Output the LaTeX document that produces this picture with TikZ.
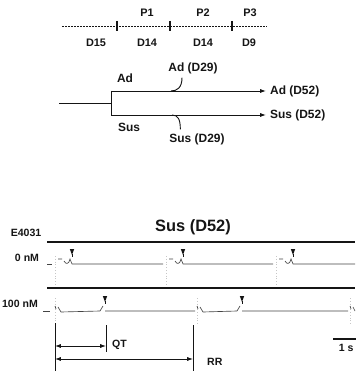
\documentclass[tikz,border=0pt]{standalone}
\usepackage{fontspec}
\setmainfont{Liberation Sans}
\usepackage{xcolor,tikz}
\usetikzlibrary{arrows.meta,positioning}
\definecolor{ink}{HTML}{151515}
\definecolor{trace}{HTML}{444444}

\begin{document}
\begin{tikzpicture}[x=0.3mm,y=-0.3mm,font=\fontsize{9.3}{11}\selectfont\bfseries,text=ink,draw=ink,
  lbl/.style={font=\fontsize{10.2}{12}\selectfont\bfseries},
  small/.style={font=\fontsize{9}{10}\selectfont\bfseries},
  tracepen/.style={draw=trace,line width=0.55pt},
  guide/.style={draw=gray!45,dotted,line width=0.4pt},
  rail/.style={line width=1.3pt},
  span/.style={line width=0.7pt,{Latex[length=5pt,width=3.5pt]}-{Latex[length=5pt,width=3.5pt]}}]
\useasboundingbox (0,0) rectangle (355,371);
% passage ruler
\coordinate (r0) at (62,26);
\coordinate (r4) at (267,26);
\draw[line width=0.8pt,dash pattern=on 0.5mm off 0.4mm] (r0) -- (r4);
\foreach \x in {117,170,232}
  \draw[line width=0.9pt] (\x,21) -- (\x,31);
\node (p1) at (147,13) {P1};
\node (p2) at (203,13) {P2};
\node (p3) at (250,13) {P3};
\node (d15) at (96,43) {D15};
\node (d14a) at (147,43) {D14};
\node (d14b) at (203,43) {D14};
\node (d9) at (249,43) {D9};
% split into the two lines
\coordinate (src) at (59,103);
\coordinate (fork) at (111,103);
\coordinate (adc) at (111,91);
\coordinate (susc) at (111,115);
\coordinate (adhook) at (171,91);
\coordinate (sushook) at (172,115);
\node[lbl] (ad) at (125,78) {Ad};
\node[lbl] (sus) at (129,127) {Sus};
\node[lbl] (ad29) at (193,68) {Ad (D29)};
\node[lbl] (sus29) at (197,139) {Sus (D29)};
\node[lbl,anchor=west] (ad52) at (266,91) {Ad (D52)};
\node[lbl,anchor=west] (sus52) at (266,115) {Sus (D52)};
\draw[line width=0.8pt] (src) -- (fork);
\draw[line width=0.8pt] (adc) -- (susc);
\draw[line width=0.8pt,-{Latex[length=5pt,width=3.5pt]}] (adc) -- (ad52.west);
\draw[line width=0.8pt,-{Latex[length=5pt,width=3.5pt]}] (susc) -- (sus52.west);
\draw[line width=0.8pt] ([xshift=-3.3mm]ad29.south) .. controls +(0,10) and +(6,0) .. (adhook);
\draw[line width=0.8pt] ([xshift=-5mm]sus29.north) .. controls +(0,-10) and +(6,0) .. (sushook);
% traces
\node[font=\fontsize{14}{16}\selectfont\bfseries] (title) at (193,227) {Sus (D52)};
\node[small] (e4031) at (26,233) {E4031};
\node[small] (zero) at (27,258) {0 nM};
\node[small] (hundred) at (20,304) {100 nM};
\draw[rail] (47,242) -- (355,242);
\draw[rail] (47,288) -- (355,288);
\foreach \x in {55,166,276} \draw[guide] (\x,256) -- (\x,286);
\foreach \x in {197,350} \draw[guide] (\x,298) -- (\x,325);
\draw[guide] (55,298) -- (55,323);
\draw[tracepen] (47,264) -- (52,264);
\foreach \b/\e in {55/163,166/273,276/355}{
  \draw[tracepen] (\b+3,259) -- (\b+7,259)
    (\b+9,261) .. controls (\b+11,265) and (\b+14,264) .. (\b+15,259) -- (\b+17,264) -- (\e,264);
  \fill[ink] (\b+14.8,249) -- (\b+19.2,249) -- (\b+17,255) -- cycle;
  \draw[ink,line width=0.6pt] (\b+17,254) -- (\b+17,257);
}
\draw[tracepen] (43,311) -- (50,311);
\foreach \b/\q/\e in {55/50/195,197/45/348}{
  \draw[tracepen] (\b,306) -- (\b+1,309)
    (\b+3,307) -- (\b+6,312) -- (\b+\q-5,311) -- (\b+\q-2,306) (\b+\q,311) -- (\e,311);
  \fill[ink] (\b+\q-2.2,296) -- (\b+\q+2.2,296) -- (\b+\q,302) -- cycle;
  \draw[ink,line width=0.6pt] (\b+\q,301) -- (\b+\q,304);
}
\draw[tracepen] (350,306) -- (351,309) (353,307) -- (355,311);
% QT and RR
\coordinate (qa) at (55,346);
\coordinate (qb) at (106,346);
\coordinate (ra) at (55,359);
\coordinate (rb) at (193,359);
\draw[line width=0.8pt] (55,323) -- (55,371);
\draw[line width=0.8pt] (106,325) -- (106,352);
\draw[line width=0.8pt] (193,325) -- (193,371);
\draw[span] (qa) -- (qb);
\draw[span] (ra) -- (rb);
\node[small,anchor=west] (qt) at (108,345) {QT};
\node[small,anchor=west] (rr) at (203,362) {RR};
% scale bar
\coordinate (s0) at (333,339);
\coordinate (s1) at (356,339);
\draw[line width=1.3pt] (s0) -- (s1);
\node[small,anchor=east,inner sep=1pt] (sec) at (355,348) {1 s};
\end{tikzpicture}
\end{document}
